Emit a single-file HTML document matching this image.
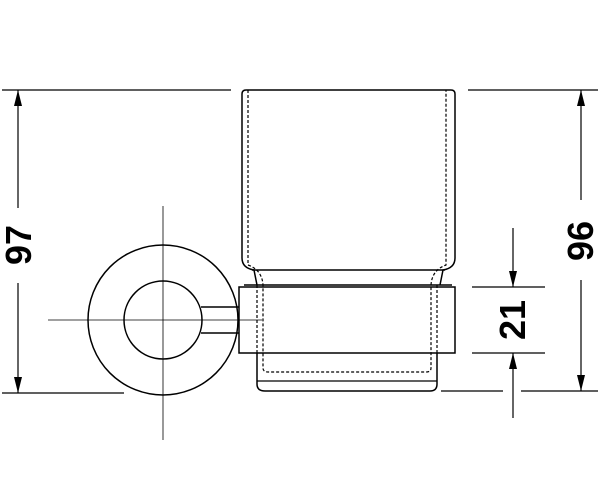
<!DOCTYPE html>
<html><head><style>body{margin:0;background:#fff}svg{display:block}</style></head><body>
<svg width="600" height="500" viewBox="0 0 600 500" xmlns="http://www.w3.org/2000/svg">
<defs>
<marker id="b" viewBox="0 0 16 8" refX="16" refY="4" markerWidth="18" markerHeight="8" markerUnits="userSpaceOnUse" orient="auto-start-reverse"><path d="M0,0 L16,4 L0,8 z" fill="#000"/></marker></defs>
<g stroke="#000" fill="none" stroke-width="1.2">
<line x1="163" y1="206" x2="163" y2="440" stroke-width="0.8"/>
<line x1="48" y1="320" x2="262" y2="320" stroke-width="0.8"/>
<circle cx="163" cy="320" r="75" stroke-width="1.5"/>
<circle cx="163" cy="320" r="39" stroke-width="1.5"/>
<path d="M201,307 H239 M201,333 H239" stroke-width="1.5"/>
<path d="M242,258 V94 Q242,90 246,90 H451 Q455,90 455,94 V258 Q455,268 443,270 L440,285" stroke-width="1.5"/>
<path d="M242,258 Q242,268 254,270 L257,285" stroke-width="1.5"/>
<line x1="252" y1="270" x2="445" y2="270" stroke-width="1.5"/>
<path d="M257,353 V384 Q257,391 265,391 H430 Q437,391 437,384 V353" stroke-width="1.5"/>
<line x1="257" y1="381" x2="437" y2="381" stroke-width="1.2"/>
<rect x="239" y="287" width="216" height="66" stroke-width="1.5"/>
<line x1="244" y1="285" x2="452" y2="285" stroke-width="1.5"/>
<path d="M248,90 V265 Q262,270 263,285 V368 Q263,372 268,372 H426 Q431,372 431,368 V285 Q432,270 446,265 V90" stroke-dasharray="3,2" stroke-width="1.2"/>
<path d="M257,285 V353 M437,285 V353" stroke-dasharray="3,2" stroke-width="1.2"/>
<line x1="2" y1="90" x2="231" y2="90"/>
<line x1="2" y1="393" x2="124" y2="393"/>
<line x1="18" y1="208" x2="18" y2="90" marker-end="url(#b)"/>
<line x1="18" y1="283" x2="18" y2="393" marker-end="url(#b)"/>
<line x1="468" y1="90" x2="598" y2="90"/>
<line x1="521" y1="391" x2="598" y2="391"/>
<line x1="441" y1="391" x2="503" y2="391"/>
<line x1="581" y1="200" x2="581" y2="90" marker-end="url(#b)"/>
<line x1="581" y1="280" x2="581" y2="391" marker-end="url(#b)"/>
<line x1="472" y1="287" x2="545" y2="287"/>
<line x1="472" y1="353" x2="545" y2="353"/>
<line x1="513" y1="228" x2="513" y2="287" marker-end="url(#b)"/>
<line x1="513" y1="418" x2="513" y2="353" marker-end="url(#b)"/>
</g>
<g font-family="Liberation Sans Narrow, Liberation Sans, sans-serif" font-weight="bold" font-size="36" text-anchor="middle" fill="#000">
<text transform="translate(31,245) rotate(-90)">97</text>
<text transform="translate(593,241) rotate(-90)">96</text>
<text transform="translate(525,320) rotate(-90)">21</text>
</g>
</svg>
</body></html>
